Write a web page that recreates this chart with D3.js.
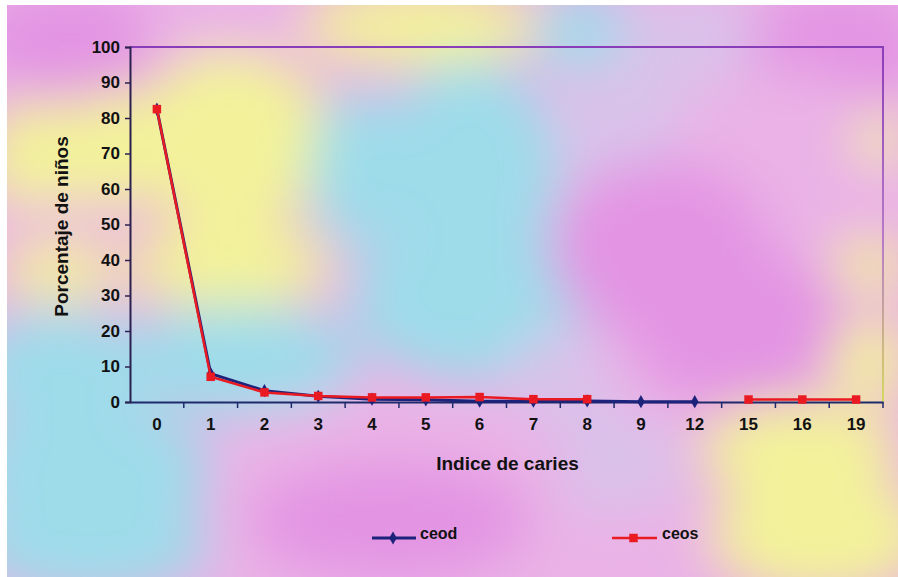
<!DOCTYPE html>
<html>
<head>
<meta charset="utf-8">
<script src="https://cdn.jsdelivr.net/npm/d3@7"></script>
<style>
  html, body { margin: 0; padding: 0; background: #ffffff; }
  svg { display: block; }
  text { font-family: "Liberation Sans", Arial, sans-serif; font-weight: bold; fill: #111; }
</style>
</head>
<body>
<svg id="chart" width="898" height="577"></svg>
<script>
// Caries index categories and share of children (%) per index value
const categories = ["0", "1", "2", "3", "4", "5", "6", "7", "8", "9", "12", "15", "16", "19"];
const ceod = [82.5, 8.0, 3.2, 1.6, 0.8, 0.6, 0.2, 0.2, 0.3, 0.1, 0.1, null, null, null];
const ceos = [82.5, 7.1, 2.7, 1.7, 1.3, 1.3, 1.4, 0.8, 0.8, null, null, 0.7, 0.7, 0.7];
const yTicks = [0, 10, 20, 30, 40, 50, 60, 70, 80, 90, 100];
const seriesNames = ["ceod", "ceos"];

const W = 898, H = 577;
const margin = { left: 130, right: 15, top: 47, bottom: 175 };
const svg = d3.select("#chart");

// ---- pastel marbled backdrop ----
const defs = svg.append("defs");
defs.append("filter").attr("id", "soft")
  .attr("x", "-30%").attr("y", "-30%").attr("width", "160%").attr("height", "160%")
  .append("feGaussianBlur").attr("stdDeviation", 26);
defs.append("clipPath").attr("id", "paper")
  .append("rect").attr("x", 7).attr("y", 5).attr("width", W - 7).attr("height", H - 5);

const MAG = "#e394e3", YEL = "#f3f29a", CYA = "#9edcea", PNK = "#eab2e6", LAV = "#d9c2ea";
const patches = [
  // top band
  [70, 40, 100, 55, MAG], [220, 30, 80, 35, PNK], [420, 25, 120, 40, YEL],
  [585, 35, 50, 40, CYA], [690, 40, 70, 45, LAV], [840, 45, 90, 60, MAG],
  // upper middle
  [35, 160, 50, 60, YEL], [110, 150, 50, 60, YEL], [230, 140, 100, 90, YEL],
  [360, 170, 50, 80, CYA], [470, 170, 90, 110, CYA], [630, 130, 70, 80, LAV],
  [780, 150, 110, 80, PNK], [880, 140, 25, 25, YEL],
  [60, 215, 70, 12, PNK], [230, 265, 100, 45, YEL], [60, 270, 60, 30, YEL],
  // middle
  [470, 300, 120, 80, CYA], [240, 360, 120, 55, CYA], [60, 370, 90, 60, CYA],
  [660, 250, 110, 90, MAG], [740, 330, 110, 80, MAG], [870, 265, 40, 25, YEL],
  [870, 360, 40, 40, YEL], [560, 380, 50, 50, LAV],
  // lower
  [90, 470, 120, 70, CYA], [90, 545, 120, 50, CYA], [360, 440, 120, 40, PNK],
  [390, 520, 140, 60, MAG], [620, 470, 60, 60, LAV], [630, 545, 60, 40, PNK],
  [800, 450, 100, 50, YEL], [820, 535, 110, 60, YEL]
];
const bg = svg.append("g").attr("clip-path", "url(#paper)");
bg.append("rect").attr("x", 7).attr("y", 5).attr("width", W - 7).attr("height", H - 5).attr("fill", PNK);
bg.append("g").attr("filter", "url(#soft)")
  .selectAll("ellipse").data(patches).join("ellipse")
  .attr("cx", d => d[0]).attr("cy", d => d[1])
  .attr("rx", d => d[2]).attr("ry", d => d[3])
  .attr("fill", d => d[4]);

// ---- scales ----
const x = d3.scaleBand().domain(categories)
  .range([margin.left, W - margin.right]).padding(0);
const y = d3.scaleLinear().domain([0, 100])
  .range([H - margin.bottom, margin.top]);
const cx = c => x(c) + x.bandwidth() / 2;

// plot-area frame (top and right edges)
const frameGrad = defs.append("linearGradient").attr("id", "frameGrad")
  .attr("x1", 0).attr("y1", 0).attr("x2", 0).attr("y2", 1);
frameGrad.append("stop").attr("offset", "0%").attr("stop-color", "#8a3db8");
frameGrad.append("stop").attr("offset", "55%").attr("stop-color", "#b77cc8");
frameGrad.append("stop").attr("offset", "100%").attr("stop-color", "#d6d860");
svg.append("line")
  .attr("x1", margin.left).attr("x2", W - margin.right)
  .attr("y1", y(100)).attr("y2", y(100))
  .attr("stroke", "#8a3db8").attr("stroke-width", 2);
svg.append("rect")
  .attr("x", W - margin.right - 1).attr("y", y(100) - 1)
  .attr("width", 2).attr("height", y(0) - y(100) + 1)
  .attr("fill", "url(#frameGrad)");

// ---- axes ----
const yAxis = svg.append("g")
  .attr("transform", `translate(${margin.left},0)`)
  .call(d3.axisLeft(y).tickValues(yTicks).tickSize(5).tickPadding(5));
yAxis.select(".domain").attr("stroke", "#2b2050").attr("stroke-width", 2);
yAxis.selectAll(".tick line").attr("stroke", "#2b2050").attr("stroke-width", 1.5);
yAxis.selectAll(".tick text").attr("font-size", 17).attr("fill", "#111")
  .attr("font-family", "Liberation Sans, Arial, sans-serif").attr("font-weight", "bold");

const xAxis = svg.append("g")
  .attr("transform", `translate(0,${y(0)})`)
  .call(d3.axisBottom(x).tickSize(0).tickPadding(16));
xAxis.select(".domain").attr("stroke", "#1f2a6a").attr("stroke-width", 2);
xAxis.selectAll(".tick text").attr("font-size", 17).attr("fill", "#111")
  .attr("font-family", "Liberation Sans, Arial, sans-serif").attr("font-weight", "bold");
// ticks at category boundaries
const bounds = categories.map(c => x(c)).concat([x(categories[categories.length - 1]) + x.bandwidth()]);
xAxis.selectAll("line.bound").data(bounds.slice(1)).join("line").attr("class", "bound")
  .attr("x1", d => d).attr("x2", d => d).attr("y1", 0).attr("y2", 6)
  .attr("stroke", "#1f2a6a").attr("stroke-width", 1.5);

// axis titles
svg.append("text")
  .attr("x", (margin.left + W - margin.right) / 2 + 1).attr("y", 470)
  .attr("text-anchor", "middle").attr("font-size", 19)
  .text("Indice de caries");
svg.append("text")
  .attr("transform", `translate(68,${(y(0) + y(100)) / 2 + 2}) rotate(-90)`)
  .attr("text-anchor", "middle").attr("font-size", 19)
  .text("Porcentaje de niños");

// ---- series ----
const line = d3.line()
  .defined(d => d.v != null)
  .x(d => cx(d.c)).y(d => y(d.v));
const toPts = arr => categories.map((c, i) => ({ c, v: arr[i] }));

const blue = "#1d227a", red = "#ea1a22";
const diamond = d3.symbol().type(d3.symbolDiamond).size(50);
const square = d3.symbol().type(d3.symbolSquare).size(72);

const ptsD = toPts(ceod), ptsS = toPts(ceos);
svg.append("path").datum(ptsD).attr("d", line)
  .attr("fill", "none").attr("stroke", blue).attr("stroke-width", 3);
svg.append("g").selectAll("path").data(ptsD.filter(d => d.v != null)).join("path")
  .attr("transform", d => `translate(${cx(d.c)},${y(d.v)})`)
  .attr("d", diamond).attr("fill", blue);

svg.append("path").datum(ptsS).attr("d", line)
  .attr("fill", "none").attr("stroke", red).attr("stroke-width", 2.5);
svg.append("g").selectAll("path").data(ptsS.filter(d => d.v != null)).join("path")
  .attr("transform", d => `translate(${cx(d.c)},${y(d.v)})`)
  .attr("d", square).attr("fill", red);

// ---- legend ----
const legend = svg.append("g");
const legendItems = [
  { name: seriesNames[0], color: blue, sym: diamond, x0: 372, x1: 416, tx: 420, w: 3 },
  { name: seriesNames[1], color: red, sym: square, x0: 612, x1: 657, tx: 662, w: 2.5 }
];
legendItems.forEach(it => {
  legend.append("line").attr("x1", it.x0).attr("x2", it.x1).attr("y1", 538).attr("y2", 538)
    .attr("stroke", it.color).attr("stroke-width", it.w);
  legend.append("path").attr("transform", `translate(${(it.x0 + it.x1) / 2 - 1},538)`)
    .attr("d", it.sym).attr("fill", it.color);
  legend.append("text").attr("x", it.tx).attr("y", 539).attr("font-size", 16).text(it.name);
});
</script>
</body>
</html>
